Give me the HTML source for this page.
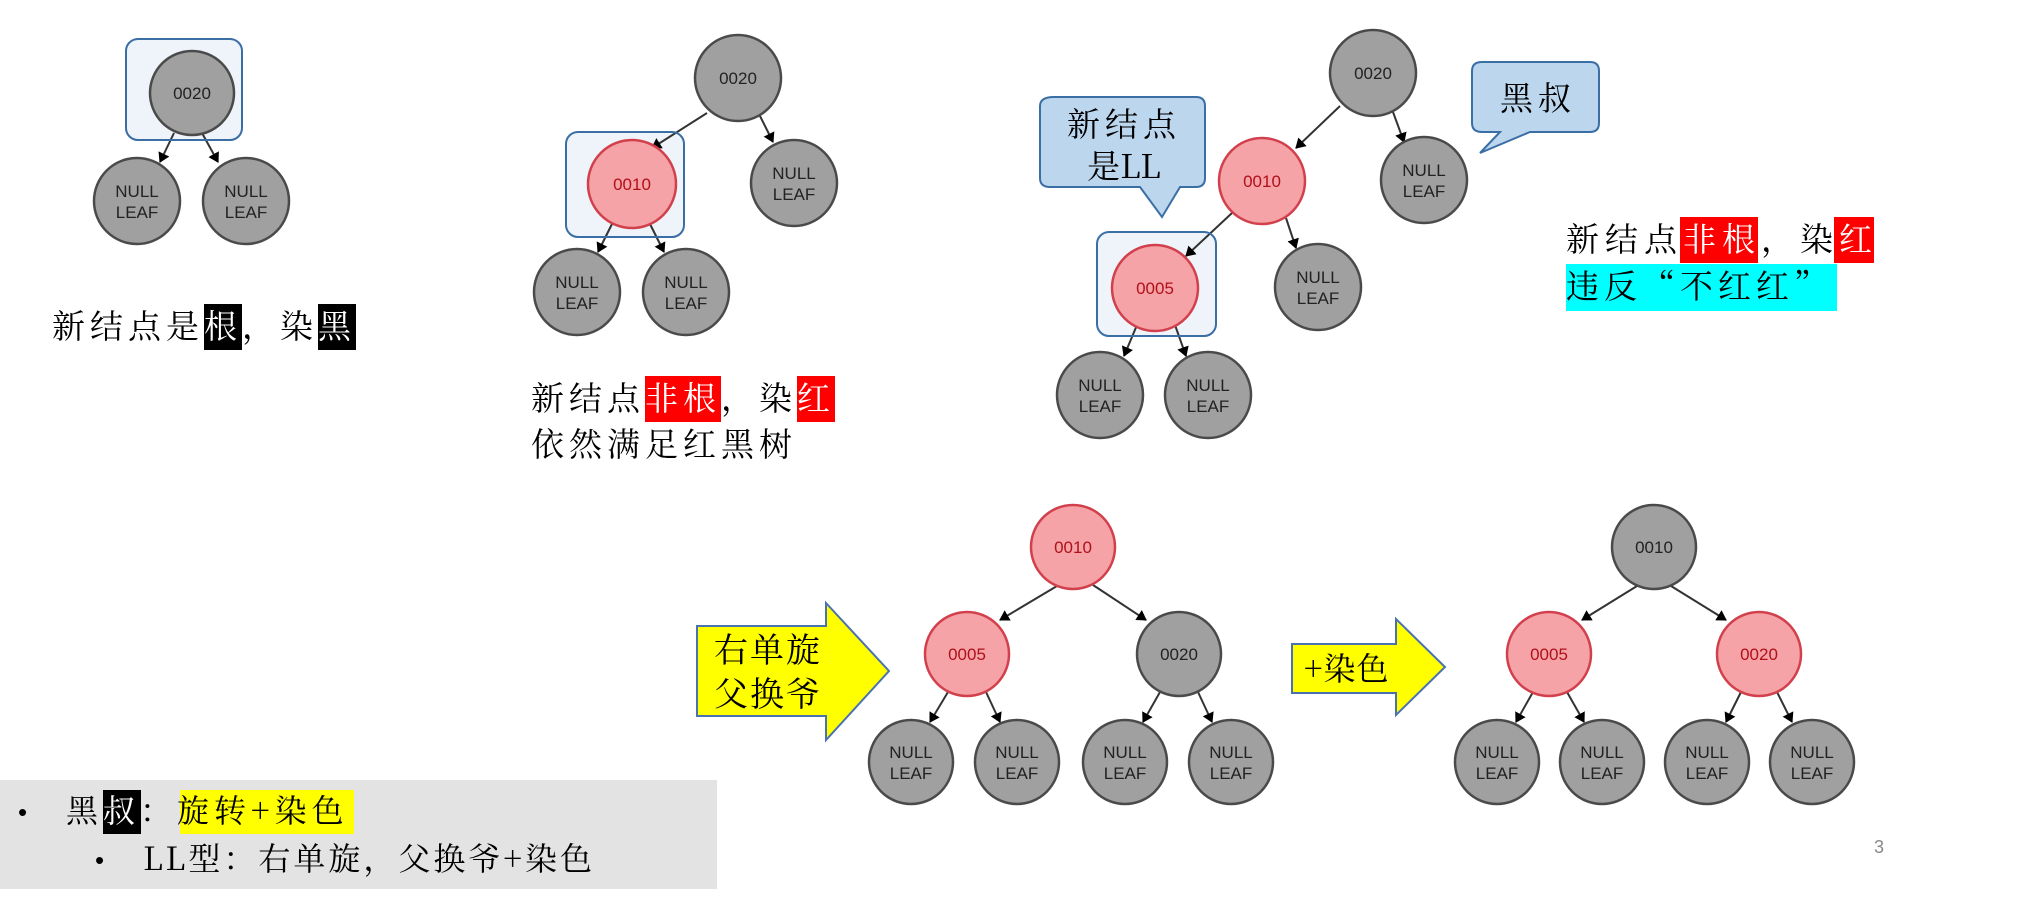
<!DOCTYPE html>
<html><head><meta charset="utf-8"><style>
html,body{margin:0;padding:0;background:#fff}
svg{display:block}
text{font-family:"Liberation Sans","Noto Sans CJK SC",sans-serif}
.cj{font-family:"Noto Serif CJK SC","Noto Sans CJK SC",serif;font-size:33px;letter-spacing:5px;fill:#000}
.g{fill:#a0a0a0;stroke:#4a4a4a;stroke-width:2.5}
.r{fill:#f5a3a7;stroke:#d1404c;stroke-width:2.5}
.gt{font-size:17px;fill:#222;text-anchor:middle}
.rt{font-size:17px;fill:#b0101a;text-anchor:middle}
.ln{stroke:#333;stroke-width:2}
.bf{fill:#eef4fa;stroke:none}
.bs{fill:none;stroke:#3a6ea5;stroke-width:2}
</style></head><body>
<svg width="2032" height="900" viewBox="0 0 2032 900" xmlns="http://www.w3.org/2000/svg">
<defs>
<marker id="a" markerWidth="10" markerHeight="12" refX="9" refY="6" orient="auto" markerUnits="userSpaceOnUse"><path d="M0,0 L10,6 L0,12 z" fill="#000"/></marker>
</defs>
<!-- Tree 1 -->
<rect class="bf" x="126" y="39" width="116" height="101" rx="12"/>
<line class="ln" x1="174" y1="133" x2="160" y2="162" marker-end="url(#a)"/>
<line class="ln" x1="202" y1="133" x2="218" y2="162" marker-end="url(#a)"/>
<circle class="g" cx="192" cy="93" r="42"/><text class="gt" x="192" y="99">0020</text>
<rect class="bs" x="126" y="39" width="116" height="101" rx="12"/>
<circle class="g" cx="137" cy="201" r="43"/><text class="gt" x="137" y="197">NULL</text><text class="gt" x="137" y="218">LEAF</text>
<circle class="g" cx="246" cy="201" r="43"/><text class="gt" x="246" y="197">NULL</text><text class="gt" x="246" y="218">LEAF</text>
<rect x="204" y="304" width="38" height="46" fill="#000"/><rect x="318" y="304" width="38" height="46" fill="#000"/>
<text class="cj" x="52" y="338">新结点是<tspan fill="#fff">根</tspan>，染<tspan fill="#fff">黑</tspan></text>

<!-- Tree 2 -->
<rect class="bf" x="566" y="132" width="118" height="105" rx="12"/>
<line class="ln" x1="707" y1="113" x2="652" y2="148" marker-end="url(#a)"/>
<line class="ln" x1="760" y1="116" x2="773" y2="142" marker-end="url(#a)"/>
<line class="ln" x1="612" y1="224" x2="598" y2="252" marker-end="url(#a)"/>
<line class="ln" x1="650" y1="224" x2="664" y2="252" marker-end="url(#a)"/>
<circle class="g" cx="738" cy="78" r="43"/><text class="gt" x="738" y="84">0020</text>
<circle class="r" cx="632" cy="184" r="44"/><text class="rt" x="632" y="190">0010</text>
<rect class="bs" x="566" y="132" width="118" height="105" rx="12"/>
<circle class="g" cx="794" cy="183" r="43"/><text class="gt" x="794" y="179">NULL</text><text class="gt" x="794" y="200">LEAF</text>
<circle class="g" cx="577" cy="292" r="43"/><text class="gt" x="577" y="288">NULL</text><text class="gt" x="577" y="309">LEAF</text>
<circle class="g" cx="686" cy="292" r="43"/><text class="gt" x="686" y="288">NULL</text><text class="gt" x="686" y="309">LEAF</text>
<rect x="645" y="376" width="76" height="46" fill="#f00"/><rect x="797" y="376" width="38" height="46" fill="#f00"/>
<text class="cj" x="531" y="410">新结点<tspan fill="#fff">非根</tspan>，染<tspan fill="#fff">红</tspan></text>
<text class="cj" x="531" y="456">依然满足红黑树</text>

<!-- Tree 3 -->
<rect class="bf" x="1097" y="232" width="119" height="104" rx="12"/>
<line class="ln" x1="1340" y1="106" x2="1296" y2="148" marker-end="url(#a)"/>
<line class="ln" x1="1393" y1="112" x2="1404" y2="142" marker-end="url(#a)"/>
<line class="ln" x1="1232" y1="213" x2="1186" y2="256" marker-end="url(#a)"/>
<line class="ln" x1="1286" y1="218" x2="1296" y2="248" marker-end="url(#a)"/>
<line class="ln" x1="1137" y1="325" x2="1124" y2="356" marker-end="url(#a)"/>
<line class="ln" x1="1175" y1="325" x2="1186" y2="356" marker-end="url(#a)"/>
<circle class="g" cx="1373" cy="73" r="43"/><text class="gt" x="1373" y="79">0020</text>
<circle class="r" cx="1262" cy="181" r="43"/><text class="rt" x="1262" y="187">0010</text>
<circle class="g" cx="1424" cy="180" r="43"/><text class="gt" x="1424" y="176">NULL</text><text class="gt" x="1424" y="197">LEAF</text>
<circle class="r" cx="1155" cy="288" r="43"/><text class="rt" x="1155" y="294">0005</text>
<rect class="bs" x="1097" y="232" width="119" height="104" rx="12"/>
<circle class="g" cx="1318" cy="287" r="43"/><text class="gt" x="1318" y="283">NULL</text><text class="gt" x="1318" y="304">LEAF</text>
<circle class="g" cx="1100" cy="395" r="43"/><text class="gt" x="1100" y="391">NULL</text><text class="gt" x="1100" y="412">LEAF</text>
<circle class="g" cx="1208" cy="395" r="43"/><text class="gt" x="1208" y="391">NULL</text><text class="gt" x="1208" y="412">LEAF</text>
<path d="M1054,97 H1196 Q1205,97 1205,106 V178 Q1205,187 1196,187 H1180 L1162,217 L1140,187 H1050 Q1040,187 1040,178 V106 Q1040,97 1054,97 Z" fill="#bcd6ee" stroke="#3a6ea5" stroke-width="2"/>
<text class="cj" x="1124" y="136" text-anchor="middle">新结点</text>
<text class="cj" x="1124" y="178" text-anchor="middle" style="letter-spacing:0">是LL</text>
<path d="M1482,62 H1590 Q1599,62 1599,71 V123 Q1599,132 1590,132 H1530 L1480,153 L1500,132 H1482 Q1472,132 1472,123 V71 Q1472,62 1482,62 Z" fill="#bcd6ee" stroke="#3a6ea5" stroke-width="2"/>
<text class="cj" x="1538" y="110" text-anchor="middle">黑叔</text>
<rect x="1680" y="217" width="78" height="46" fill="#f00"/><rect x="1834" y="217" width="40" height="46" fill="#f00"/>
<text class="cj" x="1566" y="251" style="letter-spacing:6px">新结点<tspan fill="#fff">非根</tspan>，染<tspan fill="#fff">红</tspan></text>
<rect x="1566" y="264" width="271" height="47" fill="#0ff"/>
<text class="cj" x="1566" y="298">违反“不红红”</text>

<!-- Arrow 1 -->
<path d="M697,626 H826 V603 L889,671 L826,740 V716 H697 Z" fill="#ff0" stroke="#4a72b0" stroke-width="2"/>
<text class="cj" x="714" y="662" style="font-size:34px;letter-spacing:2px">右单旋</text>
<text class="cj" x="714" y="706" style="font-size:34px;letter-spacing:2px">父换爷</text>

<!-- Tree A -->
<line class="ln" x1="1057" y1="586" x2="1000" y2="620" marker-end="url(#a)"/>
<line class="ln" x1="1093" y1="585" x2="1146" y2="620" marker-end="url(#a)"/>
<line class="ln" x1="948" y1="692" x2="930" y2="722" marker-end="url(#a)"/>
<line class="ln" x1="986" y1="692" x2="1000" y2="722" marker-end="url(#a)"/>
<line class="ln" x1="1160" y1="692" x2="1143" y2="722" marker-end="url(#a)"/>
<line class="ln" x1="1198" y1="692" x2="1212" y2="722" marker-end="url(#a)"/>
<circle class="r" cx="1073" cy="547" r="42"/><text class="rt" x="1073" y="553">0010</text>
<circle class="r" cx="967" cy="654" r="42"/><text class="rt" x="967" y="660">0005</text>
<circle class="g" cx="1179" cy="654" r="42"/><text class="gt" x="1179" y="660">0020</text>
<circle class="g" cx="911" cy="762" r="42"/><text class="gt" x="911" y="758">NULL</text><text class="gt" x="911" y="779">LEAF</text>
<circle class="g" cx="1017" cy="762" r="42"/><text class="gt" x="1017" y="758">NULL</text><text class="gt" x="1017" y="779">LEAF</text>
<circle class="g" cx="1125" cy="762" r="42"/><text class="gt" x="1125" y="758">NULL</text><text class="gt" x="1125" y="779">LEAF</text>
<circle class="g" cx="1231" cy="762" r="42"/><text class="gt" x="1231" y="758">NULL</text><text class="gt" x="1231" y="779">LEAF</text>

<!-- Arrow 2 -->
<path d="M1292,644 H1396 V619 L1445,667 L1396,715 V693 H1292 Z" fill="#ff0" stroke="#4a72b0" stroke-width="2"/>
<text class="cj" x="1304" y="680" style="font-size:32px;letter-spacing:1px">+染色</text>

<!-- Tree B -->
<line class="ln" x1="1637" y1="586" x2="1582" y2="620" marker-end="url(#a)"/>
<line class="ln" x1="1671" y1="586" x2="1726" y2="620" marker-end="url(#a)"/>
<line class="ln" x1="1533" y1="692" x2="1516" y2="722" marker-end="url(#a)"/>
<line class="ln" x1="1567" y1="692" x2="1584" y2="722" marker-end="url(#a)"/>
<line class="ln" x1="1741" y1="692" x2="1726" y2="722" marker-end="url(#a)"/>
<line class="ln" x1="1777" y1="692" x2="1792" y2="722" marker-end="url(#a)"/>
<circle class="g" cx="1654" cy="547" r="42"/><text class="gt" x="1654" y="553">0010</text>
<circle class="r" cx="1549" cy="654" r="42"/><text class="rt" x="1549" y="660">0005</text>
<circle class="r" cx="1759" cy="654" r="42"/><text class="rt" x="1759" y="660">0020</text>
<circle class="g" cx="1497" cy="762" r="42"/><text class="gt" x="1497" y="758">NULL</text><text class="gt" x="1497" y="779">LEAF</text>
<circle class="g" cx="1602" cy="762" r="42"/><text class="gt" x="1602" y="758">NULL</text><text class="gt" x="1602" y="779">LEAF</text>
<circle class="g" cx="1707" cy="762" r="42"/><text class="gt" x="1707" y="758">NULL</text><text class="gt" x="1707" y="779">LEAF</text>
<circle class="g" cx="1812" cy="762" r="42"/><text class="gt" x="1812" y="758">NULL</text><text class="gt" x="1812" y="779">LEAF</text>

<!-- bottom box -->
<rect x="0" y="780" width="717" height="109" fill="#e3e3e3"/>
<text x="18" y="821" style="font-size:26px;fill:#000">•</text>
<rect x="103" y="790" width="38" height="44" fill="#000"/>
<rect x="180" y="790" width="174" height="44" fill="#ff0"/>
<text class="cj" x="66" y="822" style="font-size:32px;letter-spacing:5px">黑<tspan fill="#fff">叔</tspan>：旋转+染色</text>
<text x="95" y="869" style="font-size:26px;fill:#000">•</text>
<text class="cj" x="143" y="870" style="font-size:32px;letter-spacing:3px">LL型：右单旋，父换爷+染色</text>
<text x="1874" y="853" style="font-size:18px;fill:#888">3</text>
</svg>
</body></html>
